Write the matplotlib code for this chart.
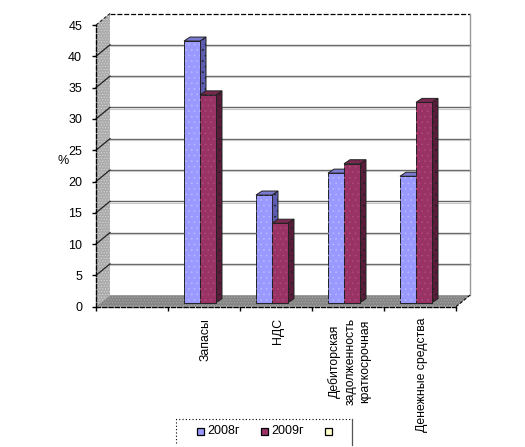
"""Объёмная столбчатая диаграмма: структура оборотных активов, 2008-2009."""
import matplotlib
matplotlib.use("Agg")
import matplotlib.pyplot as plt
from matplotlib.patches import Polygon, Rectangle

plt.rcParams["font.family"] = ["Liberation Sans", "DejaVu Sans"]
plt.rcParams["hatch.linewidth"] = 0.5

categories = ["", "Запасы", "НДС", "Дебиторская\nзадолженность\nкраткосрочная", "Денежные средства"]
values_2008 = [None, 41.8, 17.2, 20.7, 20.2]
values_2009 = [None, 33.2, 12.7, 22.2, 32.0]
y_ticks = [0, 5, 10, 15, 20, 25, 30, 35, 40, 45]

W, H = 525, 447
PX_X = 1 / 72    # один пиксель в категориях
PX_Y = 1 / 6.26  # один пиксель в процентах
DEPTH_X = 14 * PX_X  # сдвиг задней стенки
DEPTH_Y = 11.5 * PX_Y
BAR_W = 16 * PX_X
BAR_DX = 6 * PX_X
BAR_DY = 4 * PX_Y
BAR_Y0 = 4 * PX_Y  # столбцы стоят на полу, чуть выше оси


def poly(ax, pts, color, hatch=None, hatch_color=None, edge="#222222", lw=0.7, z=2):
    ax.add_patch(Polygon(pts, closed=True, facecolor=color, edgecolor=edge, lw=lw, zorder=z, clip_on=False))
    if hatch:
        ax.add_patch(Polygon(pts, closed=True, facecolor="none", edgecolor=hatch_color, hatch=hatch,
                             lw=0, zorder=z, clip_on=False))


def bar3d(ax, x, v, front, top, side, dots, z):
    # боковая грань и верх, затем передняя
    y0 = BAR_Y0
    y1 = v + BAR_Y0
    poly(ax, [(x + BAR_W, y0), (x + BAR_W + BAR_DX, y0 + BAR_DY), (x + BAR_W + BAR_DX, y1 + BAR_DY), (x + BAR_W, y1)],
         side, "...", "#222222", z=z)
    poly(ax, [(x, y1), (x + BAR_DX, y1 + BAR_DY), (x + BAR_W + BAR_DX, y1 + BAR_DY), (x + BAR_W, y1)], top, z=z)
    poly(ax, [(x, y0), (x, y1), (x + BAR_W, y1), (x + BAR_W, y0)], front, "...", dots, z=z)


fig = plt.figure(figsize=(W / 100, H / 100), dpi=100)
ax = fig.add_axes([96 / W, (H - 306.7) / H, 360 / W, 281.7 / H])
ax.set_xlim(0, len(categories))
ax.set_ylim(0, y_ticks[-1])
ax.patch.set_alpha(0)

# стенки и пол
n = len(categories)
top = y_ticks[-1]
poly(ax, [(0, 0), (DEPTH_X, DEPTH_Y), (DEPTH_X, top + DEPTH_Y), (0, top)], "#ABABAB", "......", "#d4d4d4",
     edge="none", lw=0, z=1)
poly(ax, [(0, 0), (DEPTH_X, DEPTH_Y), (n + DEPTH_X, DEPTH_Y), (n, 0)], "#858585", "......", "#a8a8a8",
     edge="none", lw=0, z=1)

# сетка на стенках
for t in y_ticks[1:-1]:
    ax.plot([DEPTH_X, n + DEPTH_X], [t + DEPTH_Y] * 2, color="#666666", lw=1.0, zorder=1.2, clip_on=False)
    ax.plot([DEPTH_X, n + DEPTH_X], [t + DEPTH_Y - 0.2] * 2, color="#c8c8c8", lw=0.8, zorder=1.2, clip_on=False)
    ax.plot([0, DEPTH_X], [t, t + DEPTH_Y], color="#222222", lw=0.9, zorder=1.2, clip_on=False)
ax.plot([DEPTH_X, n + DEPTH_X], [top + DEPTH_Y] * 2, color="black", lw=0.9, ls=(0, (4, 1.5)), zorder=1.3, clip_on=False)
ax.plot([n + DEPTH_X] * 2, [DEPTH_Y, top + DEPTH_Y], color="#999999", lw=1.0, zorder=1.3, clip_on=False)
ax.plot([0, DEPTH_X], [top, top + DEPTH_Y], color="#222222", lw=0.8, ls=(0, (3, 1.5)), zorder=1.3, clip_on=False)
ax.plot([n, n + DEPTH_X], [0, DEPTH_Y], color="black", lw=0.8, ls=(0, (3, 1.5)), zorder=3, clip_on=False)

# столбцы
for i, (a, b) in enumerate(zip(values_2008, values_2009)):
    if a is None:
        continue
    x0 = i + 16 * PX_X
    bar3d(ax, x0, a, "#9999FF", "#7a7ad0", "#5c5cb0", "#b8b8ff", z=2 + i * 0.1)
    bar3d(ax, x0 + BAR_W, b, "#993366", "#7a2850", "#5a1c3a", "#b04878", z=2.05 + i * 0.1)

# оси
for side in ("top", "right"):
    ax.spines[side].set_visible(False)
for side in ("left", "bottom"):
    ax.spines[side].set_linestyle((0, (3, 1.5)))
    ax.spines[side].set_linewidth(1.0)
    ax.spines[side].set_zorder(4)
ax.set_yticks(y_ticks)
ax.tick_params(axis="y", length=3, width=1.0, labelsize=9, pad=7)
ax.set_xticks(range(n + 1))
ax.set_xticklabels([])
ax.tick_params(axis="x", which="major", length=3, width=1.0)
ax.set_xticks([i + 0.5 + 2 * PX_X for i in range(n)], categories, minor=True, rotation=90, fontsize=8.8, linespacing=1.35)
ax.tick_params(axis="x", which="minor", length=0, pad=8)
fig.text(63 / W, 1 - 161 / H, "%", fontsize=9, ha="center", va="center")

# легенда: нижний край рамки за обрезом
lx = [176, 352]
fig.add_artist(plt.Line2D([lx[0] / W, lx[0] / W, lx[1] / W], [1 - 443 / H, 1 - 419 / H, 1 - 419 / H],
                          color="black", lw=0.8, ls=(0, (1, 2))))
fig.add_artist(plt.Line2D([lx[1] / W, lx[1] / W], [1 - 419 / H, 1 - 445 / H], color="#555555", lw=0.9))
for sx, name, col in [(197, "2008г", "#9999FF"), (261, "2009г", "#993366"), (325, "", "#FFFFCC")]:
    fig.add_artist(Rectangle((sx / W, 1 - 435 / H), 7 / W, 7 / H, transform=fig.transFigure,
                             facecolor=col, edgecolor="black", lw=0.9))
    if name:
        fig.text((sx + 10) / W, 1 - 431 / H, name, fontsize=9, va="center", ha="left")

fig.savefig("out.png", dpi=100)
